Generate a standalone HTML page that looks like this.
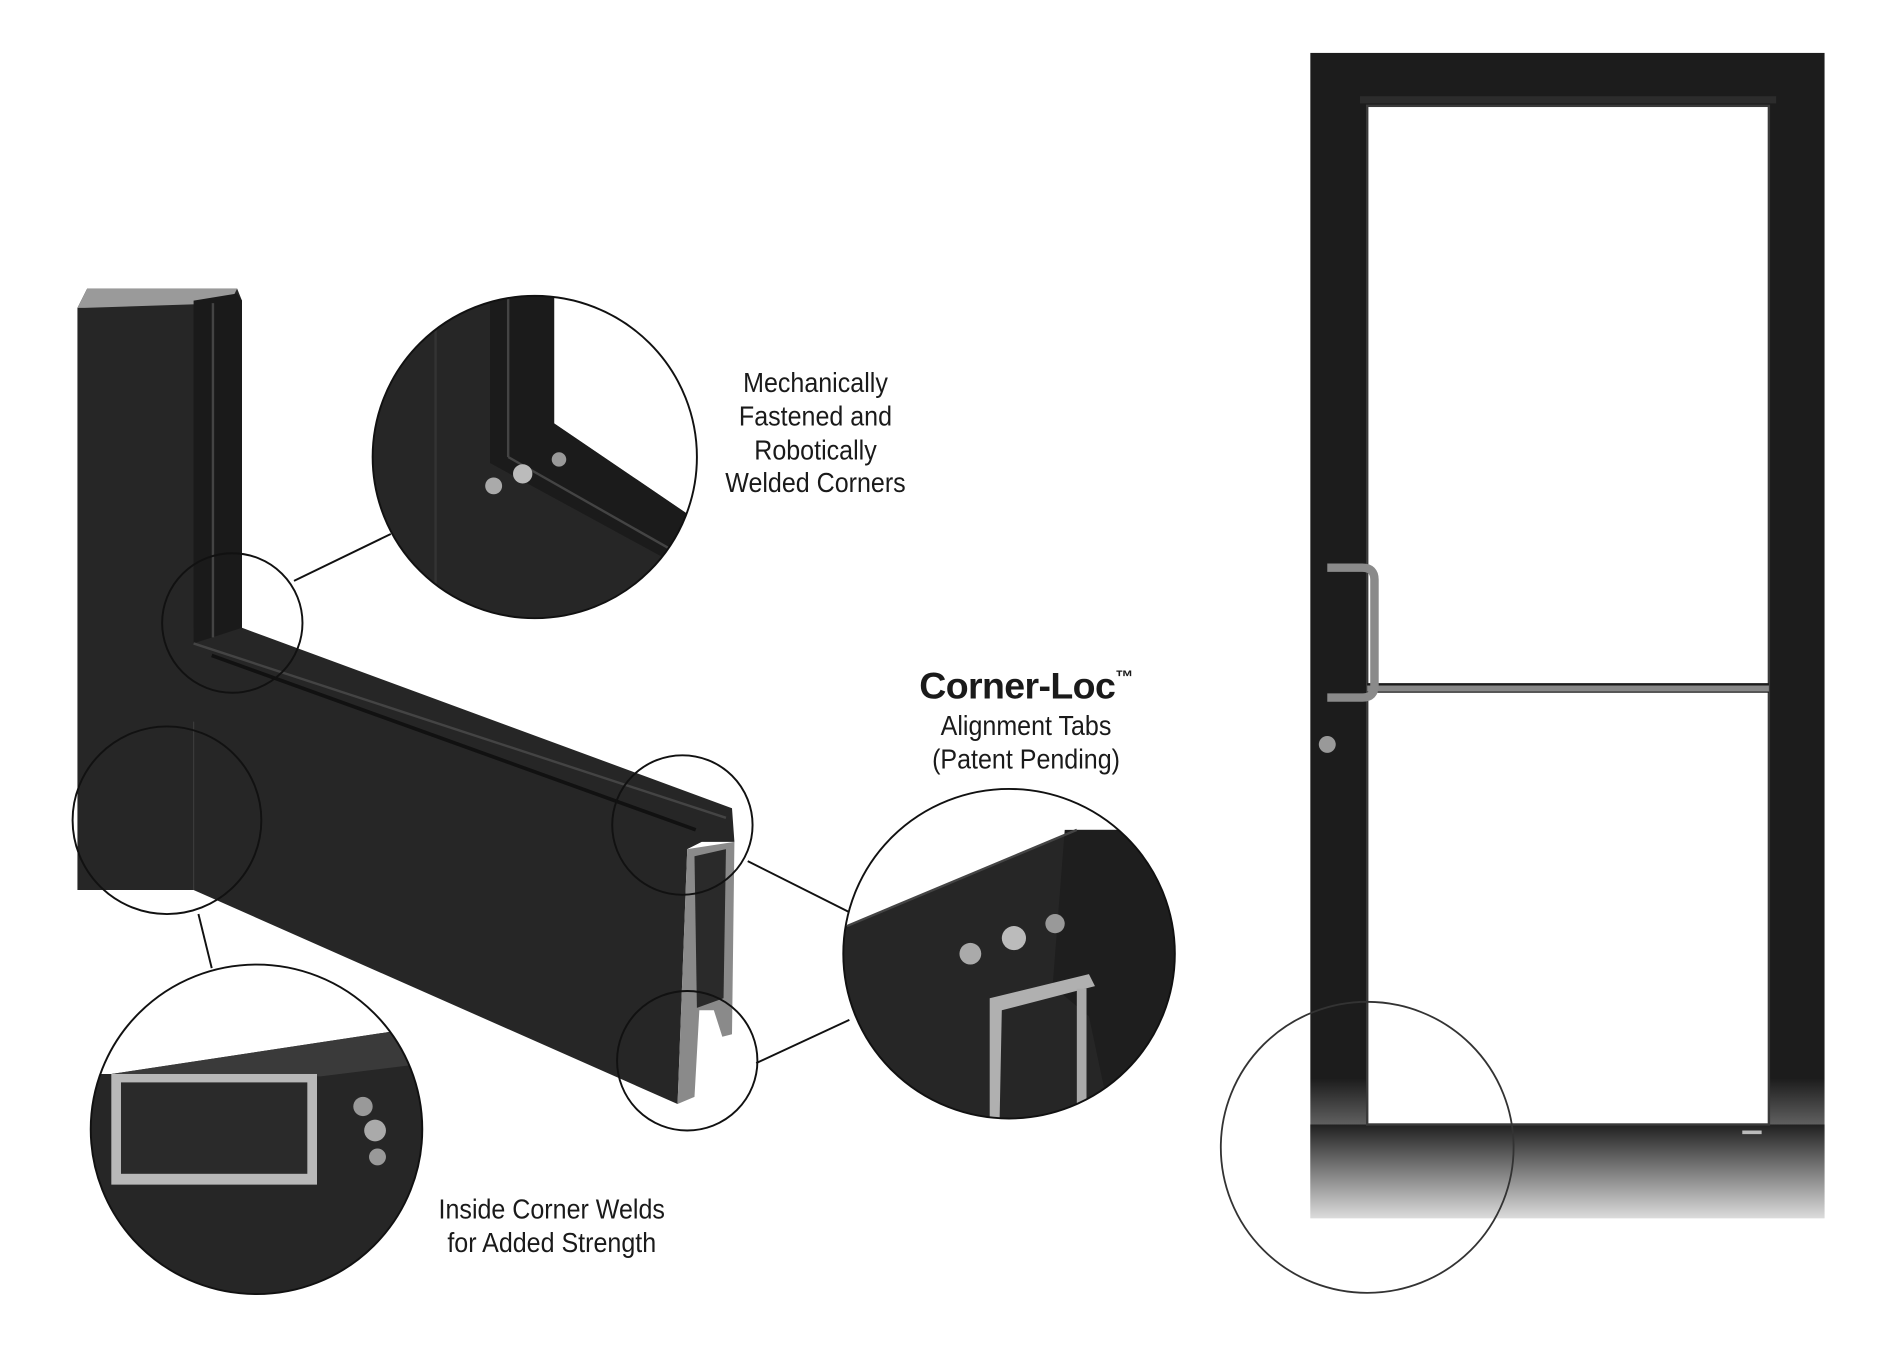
<!DOCTYPE html>
<html><head><meta charset="utf-8"><style>
html,body{margin:0;padding:0;background:#fff;width:1879px;height:1353px;overflow:hidden}
svg{display:block}
text{font-family:"Liberation Sans",sans-serif;fill:#1a1a1a}
</style></head><body>
<svg width="1879" height="1353" viewBox="0 0 1553 1125" preserveAspectRatio="none" xmlns="http://www.w3.org/2000/svg">
<defs>
<linearGradient id="doorfade" x1="0" y1="0" x2="0" y2="1">
<stop offset="0" stop-color="#1c1c1c"/><stop offset="0.88" stop-color="#1c1c1c"/><stop offset="1" stop-color="#e9e9e9"/>
</linearGradient>
<linearGradient id="rail" x1="0" y1="0" x2="0" y2="1">
<stop offset="0" stop-color="#202020"/><stop offset="1" stop-color="#dcdcdc"/>
</linearGradient>
<clipPath id="c1"><circle cx="442" cy="380" r="134"/></clipPath>
<clipPath id="c2"><circle cx="212" cy="939" r="137"/></clipPath>
<clipPath id="c3"><circle cx="834" cy="793" r="137"/></clipPath>
</defs>

<polygon points="64,256 72,240 196,240 200,250 200,522 605,672 607,700 580,700 568,706 560,918 160,740 64,740" fill="#262626"/>
<polygon points="64,256 72,240 196,240 190,252 70,256" fill="#9a9a9a"/>
<polygon points="160,250 196,244 200,250 200,522 160,535" fill="#1a1a1a"/>
<line x1="176" y1="252" x2="176" y2="530" stroke="#444" stroke-width="2"/>
<line x1="160" y1="535" x2="600" y2="680" stroke="#444" stroke-width="2"/>
<line x1="175" y1="545" x2="575" y2="690" stroke="#111" stroke-width="3"/>
<polygon points="568,706 607,700 605,860 597,862 590,840 578,840 574,912 560,918" fill="#8a8a8a"/>
<polygon points="574,712 600,706 598,830 576,838" fill="#2a2a2a"/>
<line x1="160" y1="600" x2="160" y2="740" stroke="#3a3a3a" stroke-width="1"/>

<g fill="none" stroke="#111" stroke-width="1.6">
<circle cx="192" cy="518" r="58"/>
<circle cx="138" cy="682" r="78"/>
<circle cx="564" cy="686" r="58"/>
<circle cx="568" cy="882" r="58"/>
<line x1="243" y1="483" x2="323" y2="444"/>
<line x1="164" y1="760" x2="175" y2="805"/>
<line x1="618" y1="716" x2="705" y2="760"/>
<line x1="625" y1="884" x2="702" y2="848"/>
</g>

<g clip-path="url(#c1)">
<rect x="300" y="240" width="290" height="280" fill="#262626"/>
<polygon points="458,240 590,240 590,440 575,432 458,352" fill="#fff"/>
<polygon points="405,240 458,240 458,352 575,432 560,470 405,385" fill="#1b1b1b"/>
<line x1="420" y1="240" x2="420" y2="380" stroke="#444" stroke-width="2"/>
<line x1="420" y1="380" x2="560" y2="460" stroke="#444" stroke-width="2"/>
<line x1="360" y1="240" x2="360" y2="520" stroke="#333" stroke-width="2"/>
<circle cx="408" cy="404" r="7" fill="#aaa"/><circle cx="432" cy="394" r="8" fill="#bbb"/><circle cx="462" cy="382" r="6" fill="#999"/>
</g>
<circle cx="442" cy="380" r="134" fill="none" stroke="#111" stroke-width="1.6"/>

<g clip-path="url(#c2)">
<rect x="70" y="800" width="290" height="280" fill="#262626"/>
<polygon points="70,800 360,800 360,862 322,858 92,893 70,893" fill="#fff"/>
<polygon points="92,893 322,858 345,885 265,895" fill="#3a3a3a"/>
<rect x="92" y="893" width="170" height="92" fill="#b8b8b8"/>
<rect x="100" y="900" width="154" height="76" fill="#2a2a2a"/>
<circle cx="300" cy="920" r="8" fill="#999"/><circle cx="310" cy="940" r="9" fill="#aaa"/><circle cx="312" cy="962" r="7" fill="#999"/>
</g>
<circle cx="212" cy="939" r="137" fill="none" stroke="#111" stroke-width="1.6"/>

<g clip-path="url(#c3)">
<rect x="690" y="650" width="290" height="290" fill="#262626"/>
<polygon points="690,650 980,650 980,690 890,690 700,770 690,770" fill="#fff"/>
<polygon points="880,690 980,690 980,940 920,940 900,845 870,820" fill="#1e1e1e"/>
<line x1="700" y1="770" x2="890" y2="690" stroke="#444" stroke-width="2"/>
<polygon points="818,830 900,810 905,820 828,840 826,940 818,940" fill="#b0b0b0"/>
<rect x="890" y="822" width="8" height="118" fill="#aaa"/>
<circle cx="802" cy="793" r="9" fill="#aaa"/><circle cx="838" cy="780" r="10" fill="#bbb"/><circle cx="872" cy="768" r="8" fill="#999"/>
</g>
<circle cx="834" cy="793" r="137" fill="none" stroke="#111" stroke-width="1.6"/>

<g font-size="23" text-anchor="middle">
<g transform="translate(674,0) scale(0.9,1)">
<text x="0" y="326">Mechanically</text>
<text x="0" y="354">Fastened and</text>
<text x="0" y="382">Robotically</text>
<text x="0" y="409">Welded Corners</text>
</g>
<g transform="translate(848,0) scale(0.9,1)">
<text x="0" y="611">Alignment Tabs</text>
<text x="0" y="639">(Patent Pending)</text>
</g>
<g transform="translate(456,0) scale(0.9,1)">
<text x="0" y="1013">Inside Corner Welds</text>
<text x="0" y="1041">for Added Strength</text>
</g>
</g>
<text x="848" y="581" font-size="31" font-weight="bold" text-anchor="middle" style="letter-spacing:-0.5px">Corner-Loc<tspan font-size="15" dy="-13">™</tspan></text>

<rect x="1083" y="44" width="425" height="969" fill="url(#doorfade)"/>
<rect x="1083" y="935" width="425" height="78" fill="url(#rail)"/>
<rect x="1130" y="88" width="332" height="847" fill="#fff" stroke="#3a3a3a" stroke-width="2"/>
<rect x="1124" y="80" width="344" height="6" fill="#2c2c2c"/>
<rect x="1130" y="568" width="332" height="8" fill="#1c1c1c"/>
<rect x="1130" y="570" width="332" height="5" fill="#888"/>
<path d="M1097,472 H1126 Q1136,472 1136,482 V570 Q1136,580 1126,580 H1097" fill="none" stroke="#8a8a8a" stroke-width="7"/>
<circle cx="1097" cy="619" r="7" fill="#999"/>
<rect x="1440" y="940" width="16" height="3" fill="#bbb"/>
<circle cx="1130" cy="954" r="121" fill="none" stroke="#333" stroke-width="1.5"/>
</svg>
</body></html>
